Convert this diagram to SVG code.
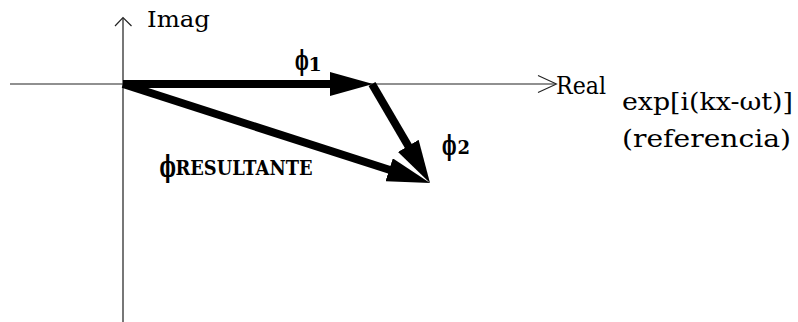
<svg xmlns="http://www.w3.org/2000/svg" width="798" height="322" viewBox="0 0 798 322">
<style>
.t{font-family:'DejaVu Serif','Liberation Serif',serif;fill:#000}
.ph{font-family:'DejaVu Serif','Liberation Serif',serif;font-weight:bold;fill:#000}
.vec{stroke:#000;stroke-width:8;fill:none;marker-end:url(#ah)}
.axis{fill:none;stroke-linejoin:miter}
</style>
<defs>
<marker id="ah" markerUnits="userSpaceOnUse" viewBox="0 0 43 24" refX="5" refY="12" markerWidth="43" markerHeight="24" orient="auto">
<path d="M0,0 L43,12 L0,24 z" fill="#000"/>
</marker>
</defs>
<rect width="798" height="322" fill="#fff"/>
<g id="axes">
<g id="imag-axis">
<line class="axis" x1="123" y1="18" x2="123" y2="322" stroke="#555" stroke-width="1.6"/>
<polyline class="axis" points="115,26 123,17.5 131.5,26" stroke="#222" stroke-width="1.2"/>
<text class="t" x="147" y="27" font-size="22" textLength="63" lengthAdjust="spacingAndGlyphs">Imag</text>
</g>
<g id="real-axis">
<line class="axis" x1="10" y1="84" x2="556" y2="84" stroke="#222" stroke-width="1.1"/>
<polyline class="axis" points="538,75.5 556.5,84 538,92.5" stroke="#222" stroke-width="1.1"/>
<text class="t" x="556" y="94" font-size="24" textLength="50" lengthAdjust="spacingAndGlyphs">Real</text>
</g>
</g>
<g id="connectors">
<line id="phi1-vec" class="vec" x1="123" y1="84" x2="335" y2="84"/>
<line id="phi2-vec" class="vec" x1="372" y1="84" x2="410.8" y2="150.2"/>
<line id="phiR-vec" class="vec" x1="123" y1="84" x2="393.9" y2="171.3"/>
</g>
<g id="phi1">
<text class="ph" transform="translate(295,70) scale(0.52,1)" font-size="28">ϕ</text>
<text class="ph" x="308.5" y="71" font-size="19">1</text>
</g>
<g id="phi2">
<text class="ph" transform="translate(442,155) scale(0.55,1)" font-size="28">ϕ</text>
<text class="ph" x="457.5" y="154" font-size="18">2</text>
</g>
<g id="phiR">
<text class="ph" transform="translate(159.5,177) scale(0.58,1)" font-size="30">ϕ</text>
<text class="ph" x="175.5" y="175" font-size="20" textLength="137" lengthAdjust="spacingAndGlyphs">RESULTANTE</text>
</g>
<g id="reference-label">
<text class="t" x="622" y="110" font-size="25" textLength="171" lengthAdjust="spacingAndGlyphs">exp[i(kx-ωt)]</text>
<text class="t" x="622" y="147" font-size="25" textLength="169" lengthAdjust="spacingAndGlyphs">(referencia)</text>
</g>
</svg>
